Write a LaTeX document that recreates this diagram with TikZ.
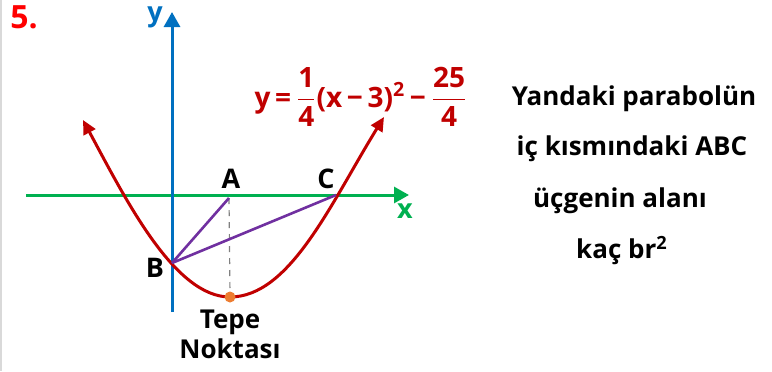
\documentclass[tikz,border=0pt]{standalone}
\usepackage{fontspec}
\setmainfont{Open Sans}
\usepackage{tikz}
\usetikzlibrary{arrows.meta}
\definecolor{numred}{RGB}{255,0,0}
\definecolor{curvered}{RGB}{192,0,0}
\definecolor{axisblue}{RGB}{0,112,192}
\definecolor{axisgreen}{RGB}{0,176,80}
\definecolor{chordpurple}{RGB}{112,48,160}
\definecolor{vertexorange}{RGB}{237,125,49}

\begin{document}
\begin{tikzpicture}[
    x=0.5pt, y=-0.5pt,
    lbl/.style={font=\bfseries\fontsize{13.5}{16}\selectfont, inner sep=0pt, anchor=base},
    txt/.style={font=\bfseries\fontsize{13}{15}\selectfont, inner sep=0pt, anchor=base},
    axis/.style={line width=1.5pt, -{Triangle[length=7.5pt, width=8pt]}},
    curve/.style={curvered, line width=1.5pt, {Triangle[length=7pt, width=6.5pt]}-{Triangle[length=7pt, width=6.5pt]}},
    chord/.style={chordpurple, line width=1.3pt}
]
\useasboundingbox (0,0) rectangle (772,371);
\draw[gray!30, line width=1pt] (0.8,0) -- (0.8,371);

% axes
\coordinate (ybot) at (172,312);
\coordinate (ytop) at (172,12);
\coordinate (xlft) at (26,195);
\coordinate (xrgt) at (409,195);
\draw[axis, axisgreen] (xlft) -- (xrgt);
\draw[axis, axisblue] (ybot) -- (ytop);
\node[lbl, axisblue] (ylabel) at (155,21) {y};
\node[lbl, axisgreen] (xlabel) at (405,218) {x};

% points
\coordinate (A) at (229,198);
\coordinate (B) at (172,263);
\coordinate (C) at (336,195);
\coordinate (V) at (230,297);
\coordinate (ltip) at (83,120);
\coordinate (rtip) at (384,117);

% parabola
\draw[curve] (ltip) .. controls (127,202) and (175,297) .. (V)
    .. controls (290,297) and (331,203) .. (rtip);

% triangle
\draw[gray, dashed, line width=0.6pt] (A) -- (V);
\draw[chord] (B) -- (A);
\draw[chord] (B) -- (C);
\fill[vertexorange] (V) circle (5.5);

\node[lbl] (Alabel) at (231,188) {A};
\node[lbl] (Blabel) at (155,277) {B};
\node[lbl] (Clabel) at (326,188) {C};
\node[txt, align=center] (tepe) at (230,358) {Tepe\\Noktası};

% equation
\node[font=\bfseries\fontsize{14}{16}\selectfont, curvered, inner sep=0pt] (eq) at (361,97)
    {y\,=\,$\displaystyle\frac{\mbox{1}}{\mbox{4}}$(x\,−\,3)\textsuperscript{2}\,−\,$\displaystyle\frac{\mbox{25}}{\mbox{4}}$};

% question
\node[font=\bfseries\fontsize{16}{18}\selectfont, numred, inner sep=0pt, anchor=base] (num) at (24,28) {5.};
\node[txt] (q1) at (634,105) {Yandaki parabolün};
\node[txt] (q2) at (632,155) {iç kısmındaki ABC};
\node[txt] (q3) at (620,207) {üçgenin alanı};
\node[txt] (q4) at (622,258) {kaç br\textsuperscript{2}};
\end{tikzpicture}
\end{document}
